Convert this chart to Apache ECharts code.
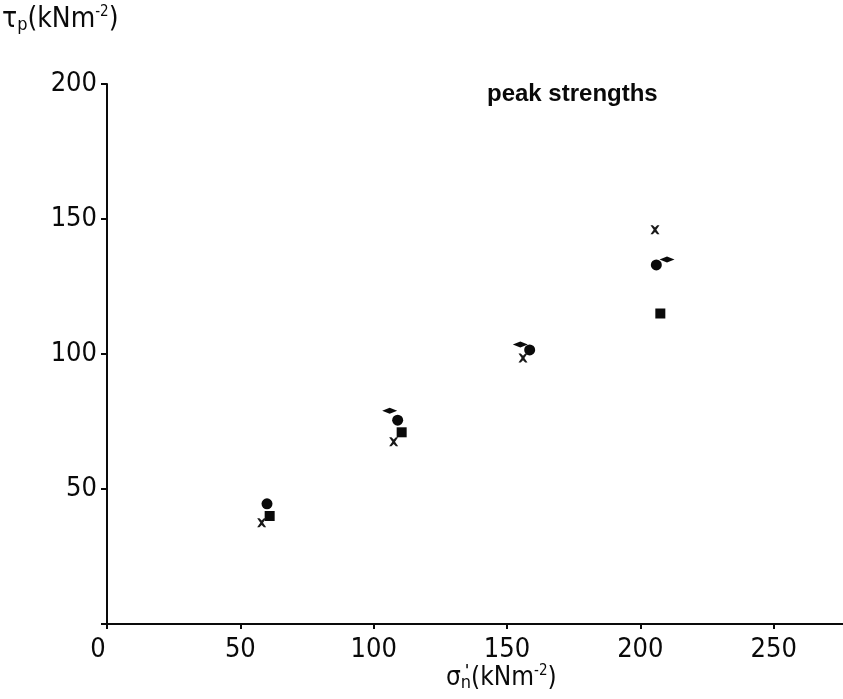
<!DOCTYPE html>
<html>
<head>
<meta charset="utf-8">
<script src="https://cdn.jsdelivr.net/npm/echarts@6/dist/echarts.min.js"></script>
<style>
  html, body { margin: 0; padding: 0; background: #fff; }
  #chart { width: 843px; height: 699px; }
</style>
</head>
<body>
<div id="chart"></div>
<script>
// Peak shear strength against effective normal stress
const xTicks = [0, 50, 100, 150, 200, 250];
const yTicks = [50, 100, 150, 200];

const circles  = [[60, 44.5], [109, 75.5], [158.5, 101.5], [206, 133]];
const squares  = [[61, 40], [110.5, 71], [207.5, 115]];
const crosses  = [[58, 37.5], [107.5, 67.5], [156, 98.5], [205.5, 146]];
const diamonds = [[106, 79], [155, 103.5], [210, 135]];

const font = '"DejaVu Sans Condensed", "DejaVu Sans", sans-serif';
const ink = '#0a0a0a';

const chart = echarts.init(document.getElementById('chart'));
chart.setOption({
  backgroundColor: '#ffffff',
  animation: false,
  grid: { left: 107, right: 0, top: 84, bottom: 75 },
  xAxis: {
    type: 'value', min: 0, max: 276, interval: 50,
    axisLine: { lineStyle: { color: ink, width: 2 } },
    axisTick: { show: true, inside: false, length: 5, lineStyle: { color: ink, width: 2 } },
    axisLabel: {
      color: ink, fontSize: 27, fontFamily: font, margin: 12, showMaxLabel: false,
      formatter: v => v === 0 ? '{z|0}' : (xTicks.includes(v) ? String(v) : ''),
      rich: { z: { fontSize: 27, fontFamily: font, color: ink, padding: [0, 18, 0, 0] } }
    },
    splitLine: { show: false }
  },
  yAxis: {
    type: 'value', min: 0, max: 200, interval: 50,
    axisLine: { lineStyle: { color: ink, width: 2 } },
    axisTick: { show: true, inside: false, length: 6, lineStyle: { color: ink, width: 2 } },
    axisLabel: {
      color: ink, fontSize: 27, fontFamily: font, margin: 10,
      formatter: v => yTicks.includes(v) ? String(v) : ''
    },
    splitLine: { show: false }
  },
  series: [
    { type: 'scatter', data: circles, symbol: 'circle', symbolSize: 11,
      itemStyle: { color: ink, opacity: 1 } },
    { type: 'scatter', data: squares, symbol: 'rect', symbolSize: 10,
      itemStyle: { color: ink, opacity: 1 } },
    { type: 'scatter', data: crosses,
      symbol: 'path://M0,0L2.5,0L5,2.5L7.5,0L10,0L6.5,5L10,10L7.5,10L5,7.5L2.5,10L0,10L3.5,5Z',
      symbolSize: 9, itemStyle: { color: '#1a1a1a', opacity: 1 } },
    { type: 'scatter', data: diamonds, symbol: 'diamond', symbolSize: [15, 6],
      itemStyle: { color: ink, opacity: 1 } }
  ],
  graphic: [
    {
      type: 'text', left: 2, top: 5,
      style: {
        text: '{t|τ}{s|p}{t|(kNm}{u|-2}{t|)}',
        fill: ink, font: '28px ' + font,
        rich: {
          t: { fontSize: 28, fontFamily: font, fill: ink },
          s: { fontSize: 18, fontFamily: font, fill: ink, padding: [11, 0, 0, 0] },
          u: { fontSize: 15, fontFamily: font, fill: ink, padding: [0, 0, 14, 0] }
        }
      }
    },
    {
      type: 'text', left: 446, top: 664,
      style: {
        text: '{t|σ}{s|n}{t|(kNm}{u|-2}{t|)}',
        fill: ink, font: '26px ' + font,
        rich: {
          t: { fontSize: 26, fontFamily: font, fill: ink },
          s: { fontSize: 18, fontFamily: font, fill: ink, padding: [10, 0, 0, 0] },
          u: { fontSize: 15, fontFamily: font, fill: ink, padding: [0, 0, 13, 0] }
        }
      }
    },
    {
      type: 'text', left: 465, top: 665,
      style: { text: "'", fill: ink, font: 'bold 15px ' + font }
    },
    {
      type: 'text', left: 487, top: 82,
      style: { text: 'peak strengths', fill: ink, font: 'bold 24px "Liberation Sans", Arial, sans-serif' }
    }
  ]
});
</script>
</body>
</html>
